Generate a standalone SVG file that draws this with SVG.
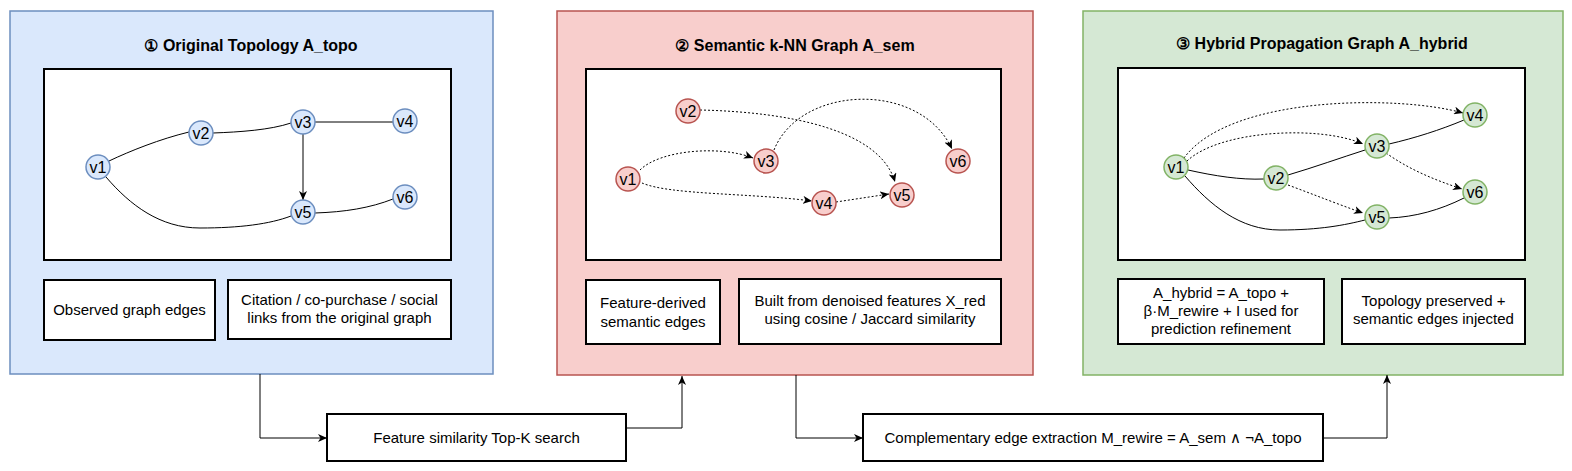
<svg xmlns="http://www.w3.org/2000/svg" width="1572" height="471" viewBox="0 0 1572 471">
<defs>
<style>
text{font-family:"Liberation Sans",Arial,Helvetica,sans-serif;fill:#000;text-anchor:middle}
.title{font-size:16px;font-weight:bold}
.lbl{font-size:15px}
.nl{font-size:16px}
.inner{fill:#fff;stroke:#000;stroke-width:2}
.box{fill:#fff;stroke:#000;stroke-width:2}
.e{fill:none;stroke:#000;stroke-width:1}
.d{fill:none;stroke:#000;stroke-width:1;stroke-dasharray:2 2}
.nb{fill:#dae8fc;stroke:#6c8ebf;stroke-width:1.5}
.nr{fill:#f8cecc;stroke:#b85450;stroke-width:1.5}
.ng{fill:#d5e8d4;stroke:#82b366;stroke-width:1.5}
</style>
<marker id="arr" markerUnits="userSpaceOnUse" markerWidth="10" markerHeight="8" refX="9" refY="4" orient="auto">
<path d="M0,0 L9,4 L0,8 L2.5,4 z" fill="#000"/>
</marker>
</defs>

<!-- Panel 1 -->
<g id="panel1">
<rect x="10" y="11" width="483" height="363" fill="#dae8fc" stroke="#6c8ebf" stroke-width="1.5"/>
<text class="title" x="251" y="51">① Original Topology A_topo</text>
<rect class="inner" x="44" y="69" width="407" height="191"/>
</g>
<g id="p1-edges">
<path class="e" d="M109,161 C130,151 160,139 189,132"/>
<path class="e" d="M213,133 C240,132 270,130 291,123"/>
<path class="e" d="M315,122 H393"/>
<path class="e" d="M303,134 V200" marker-end="url(#arr)"/>
<path class="e" d="M106,177 C130,205 160,228 200,228 C240,228 270,224 291,216"/>
<path class="e" d="M315,213 C345,212 370,208 393,199"/>
</g>
<g id="p1-v1"><circle class="nb" cx="98" cy="167" r="12"/><text class="nl" x="98" y="173">v1</text></g>
<g id="p1-v2"><circle class="nb" cx="201" cy="133" r="12"/><text class="nl" x="201" y="139">v2</text></g>
<g id="p1-v3"><circle class="nb" cx="303" cy="122" r="12"/><text class="nl" x="303" y="128">v3</text></g>
<g id="p1-v4"><circle class="nb" cx="405" cy="121" r="12"/><text class="nl" x="405" y="127">v4</text></g>
<g id="p1-v5"><circle class="nb" cx="303" cy="212" r="12"/><text class="nl" x="303" y="218">v5</text></g>
<g id="p1-v6"><circle class="nb" cx="405" cy="197" r="12"/><text class="nl" x="405" y="203">v6</text></g>
<g id="p1-box1"><rect class="box" x="44" y="280" width="171" height="60"/><text class="lbl" x="129.5" y="315">Observed graph edges</text></g>
<g id="p1-box2"><rect class="box" x="228" y="280" width="223" height="59"/><text class="lbl" x="339.5" y="305">Citation / co-purchase / social</text><text class="lbl" x="339.5" y="323">links from the original graph</text></g>

<!-- Panel 2 -->
<g id="panel2">
<rect x="557" y="11" width="476" height="364" fill="#f8cecc" stroke="#b85450" stroke-width="1.5"/>
<text class="title" x="795" y="51">② Semantic k-NN Graph A_sem</text>
<rect class="inner" x="586" y="69" width="415" height="191"/>
</g>
<g id="p2-edges">
<path class="d" d="M640,170 C660,150 720,145 753,158" marker-end="url(#arr)"/>
<path class="d" d="M642,183 C670,195 750,193 812,201" marker-end="url(#arr)"/>
<path class="d" d="M836,202 L889,194" marker-end="url(#arr)"/>
<path class="d" d="M700,110 C790,112 880,130 895,182" marker-end="url(#arr)"/>
<path class="d" d="M774,150 C800,85 920,80 952,149" marker-end="url(#arr)"/>
</g>
<g id="p2-v1"><circle class="nr" cx="628" cy="179" r="12"/><text class="nl" x="628" y="185">v1</text></g>
<g id="p2-v2"><circle class="nr" cx="688" cy="111" r="12"/><text class="nl" x="688" y="117">v2</text></g>
<g id="p2-v3"><circle class="nr" cx="766" cy="161" r="12"/><text class="nl" x="766" y="167">v3</text></g>
<g id="p2-v4"><circle class="nr" cx="824" cy="203" r="12"/><text class="nl" x="824" y="209">v4</text></g>
<g id="p2-v5"><circle class="nr" cx="902" cy="195" r="12"/><text class="nl" x="902" y="201">v5</text></g>
<g id="p2-v6"><circle class="nr" cx="958" cy="161" r="12"/><text class="nl" x="958" y="167">v6</text></g>
<g id="p2-box1"><rect class="box" x="586" y="280" width="134" height="64"/><text class="lbl" x="653" y="308">Feature-derived</text><text class="lbl" x="653" y="327">semantic edges</text></g>
<g id="p2-box2"><rect class="box" x="739" y="279" width="262" height="65"/><text class="lbl" x="870" y="306">Built from denoised features X_red</text><text class="lbl" x="870" y="324">using cosine / Jaccard similarity</text></g>

<!-- Panel 3 -->
<g id="panel3">
<rect x="1083" y="11" width="480" height="364" fill="#d5e8d4" stroke="#82b366" stroke-width="1.5"/>
<text class="title" x="1322" y="49">③ Hybrid Propagation Graph A_hybrid</text>
<rect class="inner" x="1118" y="68" width="407" height="192"/>
</g>
<g id="p3-edges">
<path class="e" d="M1188,170 C1215,176 1240,180 1264,179"/>
<path class="e" d="M1288,175 C1315,167 1340,158 1365,150"/>
<path class="e" d="M1389,144 C1415,138 1440,130 1464,120"/>
<path class="e" d="M1185,176 C1210,205 1240,230 1280,230 C1320,230 1345,225 1365,220"/>
<path class="e" d="M1389,218 C1415,217 1440,210 1464,198"/>
<path class="d" d="M1184,158 C1230,95 1400,95 1463,113" marker-end="url(#arr)"/>
<path class="d" d="M1187,161 C1220,130 1320,125 1363,144" marker-end="url(#arr)"/>
<path class="d" d="M1386,153 C1410,170 1435,180 1462,189" marker-end="url(#arr)"/>
<path class="d" d="M1288,185 C1315,195 1340,205 1363,213" marker-end="url(#arr)"/>
</g>
<g id="p3-v1"><circle class="ng" cx="1176" cy="167" r="12"/><text class="nl" x="1176" y="173">v1</text></g>
<g id="p3-v2"><circle class="ng" cx="1276" cy="178" r="12"/><text class="nl" x="1276" y="184">v2</text></g>
<g id="p3-v3"><circle class="ng" cx="1377" cy="146" r="12"/><text class="nl" x="1377" y="152">v3</text></g>
<g id="p3-v4"><circle class="ng" cx="1475" cy="115" r="12"/><text class="nl" x="1475" y="121">v4</text></g>
<g id="p3-v5"><circle class="ng" cx="1377" cy="217" r="12"/><text class="nl" x="1377" y="223">v5</text></g>
<g id="p3-v6"><circle class="ng" cx="1475" cy="192" r="12"/><text class="nl" x="1475" y="198">v6</text></g>
<g id="p3-box1"><rect class="box" x="1118" y="279" width="206" height="65"/><text class="lbl" x="1221" y="298">A_hybrid = A_topo +</text><text class="lbl" x="1221" y="316">β·M_rewire + I used for</text><text class="lbl" x="1221" y="334">prediction refinement</text></g>
<g id="p3-box2"><rect class="box" x="1342" y="279" width="183" height="65"/><text class="lbl" x="1433.5" y="306">Topology preserved +</text><text class="lbl" x="1433.5" y="324">semantic edges injected</text></g>

<!-- Process boxes -->
<g id="step-topk"><rect class="box" x="327" y="414" width="299" height="47"/><text class="lbl" x="476.5" y="443">Feature similarity Top-K search</text></g>
<g id="step-rewire"><rect class="box" x="863" y="414" width="460" height="47"/><text class="lbl" x="1093" y="443">Complementary edge extraction M_rewire = A_sem ∧ ¬A_topo</text></g>

<!-- Connectors -->
<g id="connectors">
<path class="e" d="M260,374 V438 H327" marker-end="url(#arr)"/>
<path class="e" d="M626,428 H682 V376" marker-end="url(#arr)"/>
<path class="e" d="M796,375 V438 H863" marker-end="url(#arr)"/>
<path class="e" d="M1323,438 H1387 V375" marker-end="url(#arr)"/>
</g>
</svg>
